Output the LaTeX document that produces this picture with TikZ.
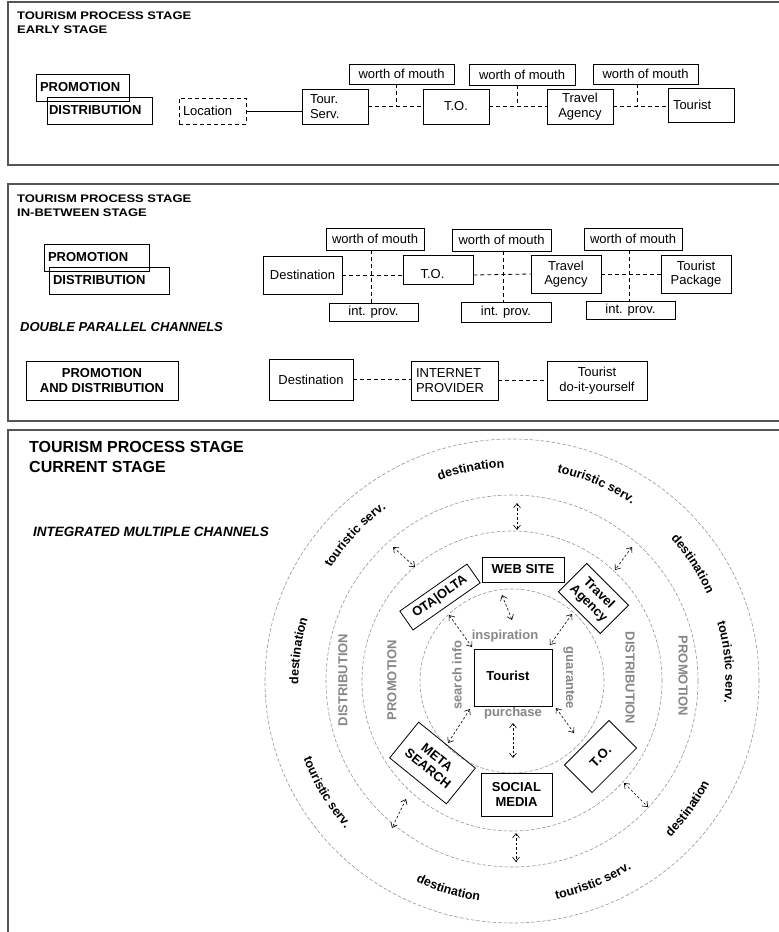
\documentclass[tikz,border=0pt]{standalone}
\usepackage{fontspec}
\setmainfont{Liberation Sans}
\usetikzlibrary{arrows.meta,decorations.text}

\definecolor{framegray}{RGB}{85,85,85}
\definecolor{ringgray}{RGB}{150,150,150}
\definecolor{labelgray}{RGB}{135,135,135}

\newcommand\regf{\fontsize{13}{14.5}\selectfont}
\newcommand\bldf{\bfseries\fontsize{13}{14.5}\selectfont}
\newcommand\headf{\bfseries\fontsize{11}{13}\selectfont}
\newcommand\bigheadf{\bfseries\fontsize{16}{19}\selectfont}
\newcommand\ringf{\bfseries\fontsize{12.5}{14}\selectfont}

% curved ring captions: clockwise (upper half) and counter-clockwise (lower half)
\newcommand\ringcw[2]{%
  \path[decorate, decoration={text along path, text align=center, text={|\ringf|#2}}]
    (ctr) ++({#1+25}:213.5pt) arc[start angle={#1+25}, end angle={#1-25}, radius=213.5pt];}
\newcommand\ringccw[2]{%
  \path[decorate, decoration={text along path, text align=center, text={|\ringf|#2}}]
    (ctr) ++({#1-25}:222.5pt) arc[start angle={#1-25}, end angle={#1+25}, radius=222.5pt];}

\tikzset{
  frame/.style={draw=framegray, line width=1.2pt},
  box/.style={draw, line width=0.8pt, inner sep=0pt, font=\regf, align=center},
  bbox/.style={box, font=\bldf},
  head/.style={inner sep=0pt, font=\headf},
  conn/.style={line width=0.8pt, dash pattern=on 4pt off 3pt},
  solidconn/.style={line width=0.8pt},
  ring/.style={draw=ringgray, line width=0.6pt, dash pattern=on 3.5pt off 2pt},
  biarrow/.style={line width=0.6pt, dash pattern=on 2.5pt off 2pt,
    {Straight Barb[length=4.5pt,width=7pt]}-{Straight Barb[length=4.5pt,width=7pt]}},
  glabel/.style={text=labelgray, font=\bldf, inner sep=0pt},
}

\begin{document}
\begin{tikzpicture}[x=1pt,y=1pt]
\useasboundingbox (0,0) rectangle (779,-932);
\fill[white] (0,0) rectangle (779,-932);

% ---------------- panel frames ----------------
\draw[frame] (8,-2) rectangle (795,-165);
\draw[frame] (8,-184) rectangle (795,-421);
\draw[frame] (8,-430) rectangle (795,-950);

% ================= EARLY STAGE =================
\node[head, anchor=base west] (h1a) at (17,-19.3) {\scalebox{1.18}[1]{TOURISM PROCESS STAGE}};
\node[head, anchor=base west] (h1b) at (17,-33) {\scalebox{1.18}[1]{EARLY STAGE}};

\node[bbox, minimum width=93pt, minimum height=27pt, text width=85pt, inner xsep=4pt, align=left] (promo1) at (82.5,-87.5) {PROMOTION};
\node[bbox, minimum width=105pt, minimum height=27pt, text width=101pt, inner xsep=2pt, align=left] (distr1) at (99.5,-110.5) {DISTRIBUTION};

\node[box, dash pattern=on 4pt off 3pt, minimum width=67pt, minimum height=26pt, text width=59pt, inner xsep=4pt, align=left] (loc1) at (212.5,-111) {Location};
\node[box, minimum width=66pt, minimum height=35pt, text width=50pt, inner xsep=8pt, align=left] (ts1) at (335,-106.5) {Tour.\\Serv.};
\node[box, minimum width=66pt, minimum height=35pt] (to1) at (456,-106.5) {T.O.};
\node[box, minimum width=66pt, minimum height=35pt] (ta1) at (580,-106.5) {Travel\\Agency};
\node[box, minimum width=66pt, minimum height=34pt, text width=56pt, inner xsep=5pt, align=left] (tr1) at (701,-105) {Tourist};

\node[box, minimum width=105pt, minimum height=20pt] (wom1a) at (401.5,-74) {worth of mouth};
\node[box, minimum width=106pt, minimum height=21pt] (wom1b) at (522,-74.5) {worth of mouth};
\node[box, minimum width=105pt, minimum height=20pt] (wom1c) at (645.5,-74) {worth of mouth};

\draw[solidconn] (loc1.east) -- (loc1.east -| ts1.west);
\draw[conn] (ts1.east) -- (to1.west);
\draw[conn] (to1.east) -- (ta1.west);
\draw[conn] (ta1.east) -- (ta1.east -| tr1.west);
\draw[conn] ([xshift=-5.5pt]wom1a.south) -- ([xshift=-5.5pt]wom1a.south |- to1.west);
\draw[conn] ([xshift=-5pt]wom1b.south) -- ([xshift=-5pt]wom1b.south |- to1.west);
\draw[conn] ([xshift=-8.5pt]wom1c.south) -- ([xshift=-8.5pt]wom1c.south |- to1.west);

% ================= IN-BETWEEN STAGE =================
\node[head, anchor=base west] (h2a) at (17,-202.7) {\scalebox{1.18}[1]{TOURISM PROCESS STAGE}};
\node[head, anchor=base west] (h2b) at (17,-216.7) {\scalebox{1.18}[1]{IN-BETWEEN STAGE}};

\node[bbox, minimum width=105pt, minimum height=27pt, text width=97pt, inner xsep=4pt, align=left] (promo2) at (96.5,-257.5) {PROMOTION};
\node[bbox, minimum width=120pt, minimum height=27pt, text width=112pt, inner xsep=4pt, align=left] (distr2) at (109,-280.5) {DISTRIBUTION};

\node[inner sep=0pt, font=\bldf\itshape, anchor=base west] (dpc) at (20,-331) {DOUBLE PARALLEL CHANNELS};

\node[box, minimum width=79pt, minimum height=38pt] (dest2) at (302.5,-275) {Destination};
\node[box, minimum width=70pt, minimum height=29pt] (to2) at (438,-269.5) {};
\node[inner sep=0pt, font=\regf] (to2t) at (432.5,-274) {T.O.};
\node[box, minimum width=70pt, minimum height=38pt] (ta2) at (566,-274) {Travel\\Agency};
\node[box, minimum width=70pt, minimum height=38pt] (tp2) at (696,-274) {Tourist\\Package};

\node[box, minimum width=98pt, minimum height=22pt] (wom2a) at (375,-239) {worth of mouth};
\node[box, minimum width=99pt, minimum height=22pt] (wom2b) at (501.5,-240) {worth of mouth};
\node[box, minimum width=98pt, minimum height=22pt] (wom2c) at (633,-239) {worth of mouth};
\node[box, minimum width=89pt, minimum height=18pt] (ip2a) at (373.5,-312) {int. prov.};
\node[box, minimum width=90pt, minimum height=20pt] (ip2b) at (506,-312) {int. prov.};
\node[box, minimum width=89pt, minimum height=18pt] (ip2c) at (630.5,-310) {int. prov.};

\draw[conn] (dest2.east) -- (dest2.east -| to2.west);
\draw[conn] (dest2.east -| to2.east) -- (ta2.west);
\draw[conn] (ta2.east) -- (tp2.west);
\draw[conn] ([xshift=-4pt]wom2a.south) -- ([xshift=-4pt]wom2a.south |- ip2a.north);
\draw[conn] ([xshift=1.5pt]wom2b.south) -- ([xshift=1.5pt]wom2b.south |- ip2b.north);
\draw[conn] ([xshift=-4pt]wom2c.south) -- ([xshift=-4pt]wom2c.south |- ip2c.north);

\node[bbox, minimum width=152pt, minimum height=39pt] (pad2) at (102,-380.5) {PROMOTION\\AND DISTRIBUTION};
\node[box, minimum width=84pt, minimum height=41pt] (dest3) at (311,-379.5) {Destination};
\node[box, minimum width=87pt, minimum height=39pt, text width=77pt, inner xsep=5pt, align=left] (inet) at (454.5,-380.5) {INTERNET\\PROVIDER};
\node[box, minimum width=100pt, minimum height=39pt] (diy) at (597,-380.5) {Tourist\\do-it-yourself};

\draw[conn] (dest3.east) -- (dest3.east -| inet.west);
\draw[conn] (inet.east) -- (diy.west);

% ================= CURRENT STAGE =================
\node[inner sep=0pt, font=\bigheadf, anchor=base west] (h3a) at (29,-452.7) {TOURISM PROCESS STAGE};
\node[inner sep=0pt, font=\bigheadf, anchor=base west] (h3b) at (29,-472.7) {CURRENT STAGE};
\node[inner sep=0pt, font=\bfseries\itshape\fontsize{13.5}{15}\selectfont, anchor=base west] (imc) at (33,-536.7) {INTEGRATED MULTIPLE CHANNELS};

\coordinate (ctr) at (512,-681);

% rings
\draw[ring] (ctr) ellipse[x radius=247pt, y radius=242pt];
\draw[ring] (ctr) circle[radius=186pt];
\draw[ring] (ctr) circle[radius=150pt];
\draw[ring] (ctr) circle[radius=92pt];

% captions on the outer ring
\ringcw{137}{touristic serv.}
\ringcw{101}{destination}
\ringcw{66.8}{touristic serv.}
\ringcw{33}{destination}
\ringcw{5}{touristic serv.}
\ringcw{172}{destination}
\ringccw{-36}{destination}
\ringccw{-68}{touristic serv.}
\ringccw{-107}{destination}
\ringccw{-149}{touristic serv.}

% grey ring labels
\node[glabel, rotate=90] (dl) at (343,-680) {DISTRIBUTION};
\node[glabel, rotate=90] (pl) at (392,-680) {PROMOTION};
\node[glabel, rotate=-90] (dr) at (630,-678) {DISTRIBUTION};
\node[glabel, rotate=-90] (pr) at (683,-676) {PROMOTION};
\node[glabel] (insp) at (505,-636) {inspiration};
\node[glabel] (purch) at (513,-713) {purchase};
\node[glabel, rotate=90] (sinfo) at (457,-675) {search info};
\node[glabel, rotate=-90] (guar) at (569,-678) {guarantee};

% channel boxes
\node[bbox, minimum width=78pt, minimum height=57pt] (tourist) at (513,-677.5) {};
\node[inner sep=0pt, font=\bldf] (touristt) at (508,-676) {Tourist};
\node[bbox, minimum width=82pt, minimum height=25pt] (web) at (523,-569.5) {WEB SITE};
\node[bbox, minimum width=71pt, minimum height=43pt] (social) at (516.5,-794.5) {SOCIAL\\MEDIA};
\node[bbox, minimum width=82pt, minimum height=23pt, rotate=35] (ota) at (440,-597) {OTA|OLTA};
\node[bbox, minimum width=59pt, minimum height=40pt, rotate=-45] (tag) at (593.5,-598.5) {Travel\\Agency};
\node[bbox, minimum width=73pt, minimum height=46pt, rotate=-39] (meta) at (432.5,-763) {META\\SEARCH};
\node[bbox, minimum width=63pt, minimum height=39pt, rotate=45] (to3) at (600.5,-756.5) {T.O.};

% arrow end points
\coordinate (a1s) at (502,-595); \coordinate (a1e) at (512,-620);
\coordinate (a2s) at (449,-615); \coordinate (a2e) at (472,-647);
\coordinate (a3s) at (572,-614); \coordinate (a3e) at (550,-645);
\coordinate (a4s) at (470,-709); \coordinate (a4e) at (448,-743);
\coordinate (a5s) at (513,-723); \coordinate (a5e) at (513,-758);
\coordinate (a6s) at (556,-708); \coordinate (a6e) at (574,-733);
\coordinate (b1s) at (517,-503); \coordinate (b1e) at (517,-530);
\coordinate (b2s) at (393,-547); \coordinate (b2e) at (415,-567);
\coordinate (b3s) at (632,-547); \coordinate (b3e) at (615,-570);
\coordinate (b4s) at (406,-799); \coordinate (b4e) at (392,-828);
\coordinate (b5s) at (516,-833); \coordinate (b5e) at (516,-862);
\coordinate (b6s) at (624,-783); \coordinate (b6e) at (648,-807);

\foreach \p in {a1,a2,a3,a4,a5,a6,b1,b2,b3,b4,b5,b6}
  \draw[biarrow] (\p s) -- (\p e);

\end{tikzpicture}
\end{document}
